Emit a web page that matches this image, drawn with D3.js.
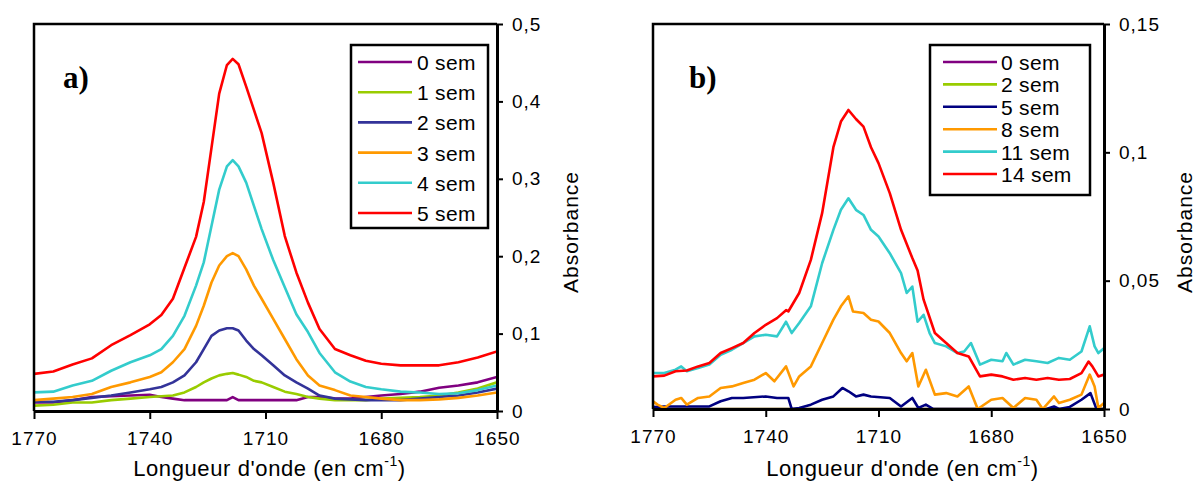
<!DOCTYPE html>
<html><head><meta charset="utf-8">
<script src="https://cdn.jsdelivr.net/npm/d3@7"></script>
<style>
html,body{margin:0;padding:0;background:#fff;}
svg{display:block;}
text{font-family:"Liberation Sans",Arial,sans-serif;fill:#000;}
</style></head>
<body>
<svg id="chart" width="1199" height="481"></svg>
<script>
// ---------- Shared ----------
const xTicks = [1770, 1740, 1710, 1680, 1650];
const yTicksA = [0, 0.1, 0.2, 0.3, 0.4, 0.5];
const yTicksB = [0, 0.05, 0.1, 0.15];
const labelsA = ["0 sem", "1 sem", "2 sem", "3 sem", "4 sem", "5 sem"];
const labelsB = ["0 sem", "2 sem", "5 sem", "8 sem", "11 sem", "14 sem"];
const colorsA = ["#800080", "#99cc00", "#333399", "#ff9900", "#33cccc", "#ff0000"];
const colorsB = ["#800080", "#99cc00", "#000080", "#ff9900", "#33cccc", "#ff0000"];

// ---------- Panel a data ----------
const wnA = [1770,1765,1760,1755,1750,1745,1740,1737,1734,1731,1728,1726,1724,1722,1720,1718.5,1717,1715,1713,1711,1708,1705,1702,1699,1696,1692,1688,1684,1680,1675,1670,1665,1660,1655,1650];
const a0 = [0.011,0.011,0.014,0.018,0.019,0.020,0.021,0.018,0.016,0.014,0.014,0.014,0.014,0.014,0.014,0.018,0.014,0.014,0.014,0.014,0.014,0.014,0.014,0.018,0.018,0.016,0.016,0.018,0.020,0.022,0.025,0.030,0.033,0.037,0.044];
const a1 = [0.007,0.008,0.011,0.011,0.014,0.016,0.018,0.019,0.020,0.024,0.031,0.037,0.042,0.046,0.048,0.049,0.047,0.044,0.039,0.037,0.031,0.025,0.022,0.018,0.016,0.014,0.014,0.014,0.016,0.017,0.018,0.020,0.024,0.029,0.037];
const a2 = [0.012,0.012,0.014,0.017,0.020,0.024,0.028,0.031,0.037,0.046,0.063,0.080,0.097,0.104,0.107,0.107,0.104,0.091,0.080,0.072,0.059,0.046,0.037,0.029,0.020,0.016,0.015,0.014,0.014,0.014,0.016,0.018,0.020,0.024,0.029];
const a3 = [0.014,0.016,0.018,0.022,0.031,0.037,0.044,0.050,0.063,0.080,0.110,0.136,0.166,0.188,0.200,0.204,0.200,0.183,0.162,0.145,0.119,0.093,0.067,0.046,0.033,0.027,0.020,0.018,0.016,0.014,0.014,0.015,0.017,0.020,0.024];
const a4 = [0.024,0.025,0.033,0.039,0.052,0.063,0.072,0.080,0.097,0.123,0.162,0.192,0.239,0.286,0.316,0.324,0.316,0.295,0.265,0.235,0.195,0.160,0.125,0.102,0.075,0.050,0.038,0.031,0.028,0.025,0.024,0.022,0.023,0.027,0.033];
const a5 = [0.048,0.051,0.060,0.068,0.085,0.098,0.112,0.124,0.145,0.185,0.225,0.270,0.340,0.410,0.447,0.455,0.448,0.419,0.389,0.359,0.295,0.226,0.179,0.140,0.106,0.080,0.072,0.065,0.061,0.059,0.059,0.059,0.063,0.069,0.077];

// ---------- Panel b data ----------
const b0w = [1770, 1650];
const b0 = [0, 0];
const b2w = [1770, 1650];
const b2 = [0, 0];
const b5w = [1770,1767,1761,1755,1752,1749,1746,1740,1737,1734,1733.1,1731.1,1728,1725,1722,1719.6,1718,1716,1714,1712,1707,1704,1701,1699.4,1697.4,1695.4,1665.3,1663.3,1662,1659.1,1656,1653.6,1652,1650];
const b5 = [0.0008,0.001,0.001,0.001,0.003,0.0043,0.0043,0.0049,0.0043,0.0043,0,0.0004,0.0017,0.0036,0.0049,0.0082,0.0069,0.0049,0.0056,0.0049,0.0043,0.001,0.0043,0.0004,0.0017,0,0,0.001,0,0.0008,0.0036,0.0062,0,0];
const b8w = [1770,1768.8,1767,1764,1762.5,1761,1758,1755,1752,1749,1746,1743,1740,1737.7,1734.6,1732.6,1731.1,1728,1725,1722,1720,1718,1716.8,1714,1712,1710,1707,1704,1702.5,1701,1699.4,1697.4,1695,1692,1689,1686,1683.6,1680,1677,1674.1,1671,1668,1666.3,1663.3,1662,1659.1,1656,1653.8,1652.5,1651.5,1650];
const b8 = [0.003,0.0017,0.0004,0.0036,0.0043,0.0017,0.0043,0.0049,0.0082,0.0088,0.0101,0.0114,0.014,0.0108,0.0166,0.0088,0.0127,0.0166,0.0257,0.0348,0.040,0.0439,0.038,0.0374,0.0348,0.0341,0.0296,0.0218,0.0186,0.0218,0.0088,0.0153,0.0056,0.0062,0.0049,0.0088,0,0.0036,0.0043,0.0004,0.0043,0.0036,0,0.0049,0.0023,0.0036,0.0056,0.0134,0.0088,0.0004,0.0023];
const b11w = [1770,1767,1764,1762.5,1761,1758,1755,1752,1749,1746,1743,1740,1737,1734.6,1733.1,1731.1,1728,1725,1722,1720,1718,1716,1714,1712,1710,1707,1704,1702.5,1701,1699.6,1698,1696.4,1695,1692,1689,1687.2,1685.4,1683,1680,1677,1676,1674.1,1671,1668,1665,1662,1659.1,1656,1653.8,1652.5,1651.5,1650];
const b11 = [0.014,0.014,0.0153,0.0166,0.0147,0.016,0.0173,0.0211,0.0231,0.0257,0.0283,0.0289,0.0283,0.034,0.0296,0.0335,0.040,0.0568,0.0698,0.0776,0.0821,0.0776,0.0756,0.0698,0.0672,0.0607,0.0529,0.0452,0.0477,0.034,0.0367,0.0296,0.0257,0.0244,0.0218,0.0224,0.0257,0.0173,0.0192,0.0186,0.0218,0.0173,0.0192,0.0186,0.0179,0.0199,0.0192,0.0224,0.0322,0.0244,0.0218,0.0237];
const b14w = [1770,1767,1764,1761,1758,1755,1752,1749,1746,1743,1740,1737,1734.6,1734,1731.1,1728,1725,1722,1720,1718,1716,1714,1712,1710,1707,1704,1701,1699.6,1698,1695,1692,1689,1686,1683,1680,1677,1674.1,1671,1668,1665,1662,1659.1,1656,1654.1,1653.1,1651.5,1650];
const b14 = [0.0127,0.013,0.0147,0.015,0.0166,0.0179,0.0218,0.0237,0.0257,0.0296,0.0328,0.0354,0.0385,0.038,0.0452,0.0581,0.0763,0.102,0.112,0.1165,0.113,0.110,0.102,0.0958,0.0841,0.0698,0.0588,0.054,0.0426,0.0296,0.0257,0.0218,0.0205,0.0127,0.0134,0.0127,0.0114,0.0121,0.0114,0.0121,0.0114,0.0117,0.014,0.0185,0.0166,0.0127,0.0134];

const svg = d3.select("#chart");
const FONT = "Liberation Sans, Arial, sans-serif";

function zip(w, v) { return w.map((d, i) => [d, v[i]]); }

function panel(opts) {
  const x = d3.scaleLinear().domain([1770, 1650]).range([opts.x0, opts.x1]);
  const y = d3.scaleLinear().domain([0, opts.ymax]).range([opts.y1, opts.y0]);
  const g = svg.append("g");
  const clipId = "clip" + opts.id;
  svg.append("clipPath").attr("id", clipId).append("rect")
    .attr("x", opts.x0).attr("y", opts.y0)
    .attr("width", opts.x1 - opts.x0).attr("height", opts.y1 - opts.y0);
  const line = d3.line().x(d => x(d[0])).y(d => y(d[1]));
  const lg = g.append("g").attr("clip-path", `url(#${clipId})`);
  opts.series.forEach((s, i) => {
    lg.append("path").datum(zip(s.w, s.v))
      .attr("fill", "none").attr("stroke", opts.colors[i])
      .attr("stroke-width", 2.6).attr("stroke-linejoin", "round")
      .attr("d", line);
  });
  // frame (left and top)
  g.append("path")
    .attr("d", `M${opts.x1},${opts.y0}H${opts.x0}V${opts.y1}`)
    .attr("fill", "none").attr("stroke", "#000").attr("stroke-width", 2.5);
  // bottom axis
  const xa = g.append("g").attr("transform", `translate(0,${opts.y1})`)
    .call(d3.axisBottom(x).tickValues(xTicks).tickSize(8).tickSizeOuter(0).tickPadding(13).tickFormat(d3.format("d")));
  xa.select(".domain").attr("stroke-width", 3);
  xa.selectAll(".tick line").attr("stroke-width", 2);
  xa.selectAll("text").style("font-size", "19px").style("letter-spacing", "1px").style("font-family", FONT);
  // right axis
  const ya = g.append("g").attr("transform", `translate(${opts.x1},0)`)
    .call(d3.axisRight(y).tickValues(opts.yTicks).tickSize(6).tickSizeOuter(0).tickPadding(9)
      .tickFormat(d => String(+d.toFixed(2)).replace(".", ",")));
  ya.select(".domain").attr("stroke-width", 3);
  ya.selectAll(".tick line").attr("stroke-width", 2);
  ya.selectAll("text").style("font-size", "19px").style("letter-spacing", "1px").style("font-family", FONT);
  // axis titles
  const xt = g.append("text").attr("x", (opts.x0 + opts.x1) / 2 + opts.xtOff).attr("y", 476)
    .attr("text-anchor", "middle").style("font-size", "22px").style("letter-spacing", "0.6px");
  xt.append("tspan").text("Longueur d'onde (en cm");
  xt.append("tspan").text("-1").attr("dy", -10).style("font-size", "14px");
  xt.append("tspan").text(")").attr("dy", 10);
  g.append("text").attr("transform", `translate(${opts.ytX},232) rotate(-90)`)
    .attr("text-anchor", "middle").style("font-size", "21px").style("letter-spacing", "1px").text("Absorbance");
  // panel label
  g.append("text").attr("x", opts.labX).attr("y", 88)
    .style("font-family", "Liberation Serif, Times New Roman, serif")
    .style("font-weight", "bold").style("font-size", "31px").text(opts.label);
  // legend
  const L = opts.legend;
  g.append("rect").attr("x", L.x).attr("y", L.y).attr("width", L.w).attr("height", L.h)
    .attr("fill", "#fff").attr("stroke", "#000").attr("stroke-width", 2.5);
  opts.labels.forEach((t, i) => {
    const yy = L.row0 + i * L.dy;
    g.append("line").attr("x1", L.lx0).attr("x2", L.lx1).attr("y1", yy).attr("y2", yy)
      .attr("stroke", opts.colors[i]).attr("stroke-width", 2.6);
    g.append("text").attr("x", L.tx).attr("y", yy + 8).style("font-size", L.fs + "px")
      .style("letter-spacing", "0.3px").text(t);
  });
}

panel({
  id: "a", x0: 34, x1: 497, y0: 24, y1: 411, ymax: 0.5, yTicks: yTicksA,
  colors: colorsA, labels: labelsA, label: "a)", labX: 63, ytX: 578, xtOff: 4,
  series: [{w: wnA, v: a0}, {w: wnA, v: a1}, {w: wnA, v: a2}, {w: wnA, v: a3}, {w: wnA, v: a4}, {w: wnA, v: a5}],
  legend: {x: 351, y: 45, w: 137, h: 183, row0: 62, dy: 30.2, lx0: 358, lx1: 412, tx: 417, fs: 21}
});
panel({
  id: "b", x0: 653, x1: 1104, y0: 24, y1: 409, ymax: 0.15, yTicks: yTicksB,
  colors: colorsB, labels: labelsB, label: "b)", labX: 689, ytX: 1192, xtOff: 24,
  series: [{w: b0w, v: b0}, {w: b2w, v: b2}, {w: b5w, v: b5}, {w: b8w, v: b8}, {w: b11w, v: b11}, {w: b14w, v: b14}],
  legend: {x: 930, y: 45, w: 160, h: 150, row0: 62, dy: 22.4, lx0: 943, lx1: 997, tx: 1001, fs: 21}
});
</script>
</body></html>
